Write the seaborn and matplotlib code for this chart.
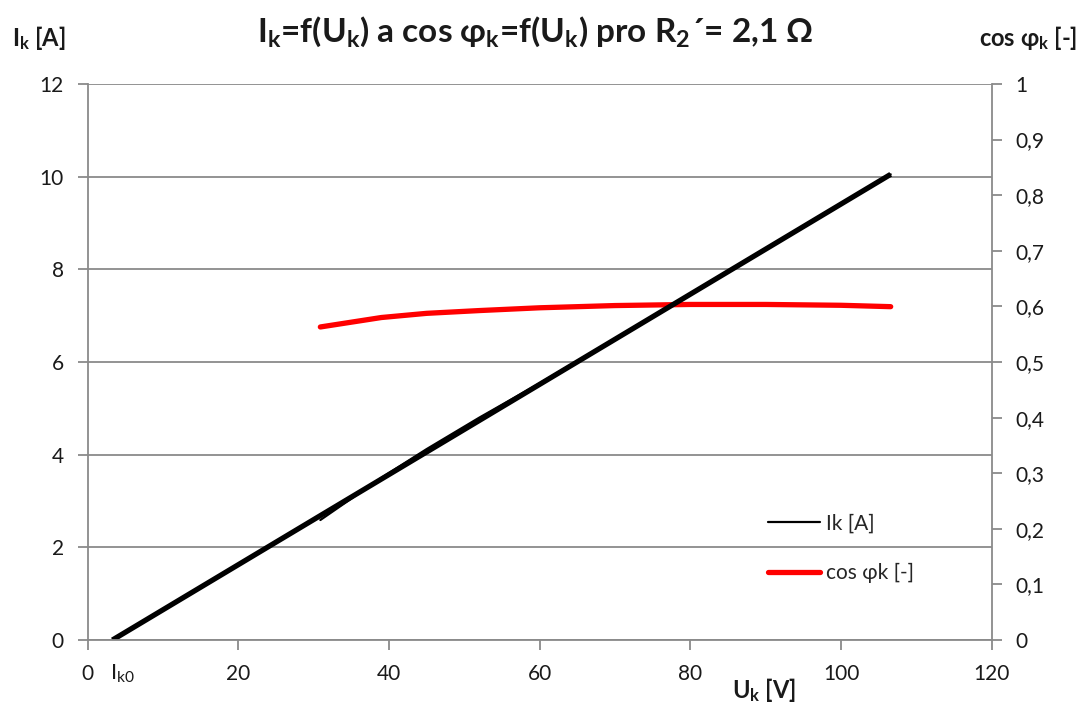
import matplotlib
matplotlib.use("Agg")
import matplotlib.pyplot as plt
import seaborn as sns
import pandas as pd
from matplotlib.ticker import MultipleLocator, FuncFormatter

# Short-circuit test, measured points
u_k = [30.9, 39, 45, 52, 60, 70, 80, 90, 100, 106.6]          # U_k [V]
i_k = [2.59, 3.50, 4.12, 4.80, 5.54, 6.5, 7.47, 8.45, 9.42, 10.05]  # I_k [A]
cos_phi_k = [0.563, 0.580, 0.5875, 0.5925, 0.5975, 0.6015, 0.6035, 0.6035, 0.602, 0.5995]

# Straight line through the current extended down to I_k = 0 (gives I_k0)
u_line = [3.3, 106.6]
i_line = [0.0, 10.05]

x_ticks = [0, 20, 40, 60, 80, 100, 120]
left_ticks = [0, 2, 4, 6, 8, 10, 12]

sns.set_theme(style="white")
plt.rcParams["font.family"] = ["Lato", "DejaVu Sans"]
plt.rcParams["mathtext.fontset"] = "custom"
plt.rcParams["mathtext.rm"] = "Lato"
plt.rcParams["mathtext.bf"] = "Lato:bold"
plt.rcParams["mathtext.it"] = "Lato:italic"

GRAY = "#8a8a8a"
TXT = "#1a1a1a"

meas = pd.DataFrame({"U": u_k, "I": i_k, "cos": cos_phi_k})
line = pd.DataFrame({"U": u_line, "I": i_line})

fig = plt.figure(figsize=(10.82, 7.08), dpi=100)
ax = fig.add_axes([0.0809, 0.096, 0.8356, 0.7854])
ax2 = ax.twinx()

sns.lineplot(data=line, x="U", y="I", ax=ax, color="black", lw=3.8,
             solid_capstyle="butt")
sns.lineplot(data=meas, x="U", y="I", ax=ax, color="black", lw=1.6,
             label="Ik [A]")
sns.lineplot(data=meas, x="U", y="cos", ax=ax2, color="#ff0000", lw=3.8,
             solid_capstyle="round", label="cos φk [-]")

ax.set_zorder(2)
ax.patch.set_visible(False)
ax2.set_zorder(1)

ax.set_xlim(0, 120)
ax.set_ylim(0, 12)
ax2.set_ylim(0, 1)
ax.set_xticks(x_ticks)
ax.set_yticks(left_ticks)
ax2.yaxis.set_major_locator(MultipleLocator(0.1))
ax2.yaxis.set_major_formatter(
    FuncFormatter(lambda v, p: ("%g" % round(v, 1)).replace(".", ",")))

ax.set_xlabel("")
ax.set_ylabel("")
ax2.set_ylabel("")

ax.yaxis.grid(True, color=GRAY, lw=1.3)
ax.xaxis.grid(False)
ax2.grid(False)

for a in (ax, ax2):
    a.spines["top"].set_visible(False)
    for s in ("left", "right", "bottom"):
        a.spines[s].set_color(GRAY)
        a.spines[s].set_linewidth(1.3)
ax.spines["right"].set_visible(False)
ax2.spines["left"].set_visible(False)
ax2.spines["bottom"].set_visible(False)

ax.tick_params(axis="both", direction="out", length=7, width=1.3, color=GRAY,
               labelsize=15, labelcolor=TXT, pad=10)
ax.tick_params(axis="y", left=True)
ax.tick_params(axis="x", bottom=True)
ax2.tick_params(axis="y", direction="out", length=7, width=1.3, color=GRAY,
                labelsize=15, labelcolor=TXT, pad=10, right=True)

h1, l1 = ax.get_legend_handles_labels()
h2, l2 = ax2.get_legend_handles_labels()
if ax2.get_legend():
    ax2.get_legend().remove()
ax.legend(h1 + h2, l1 + l2, loc="center left",
          bbox_to_anchor=(0.732, 0.165), frameon=False, fontsize=15,
          handlelength=2.5, handletextpad=0.3, labelspacing=1.4)

K = r"$_{\mathbf{k}}$"
fig.text(0.4945, 0.955,
         "I" + K + "=f(U" + K + ") a cos φ" + K + "=f(U" + K + ") pro R"
         + r"$_{\mathbf{2}}$" + "´= 2,1 Ω",
         ha="center", va="center", fontsize=24, fontweight="bold", color=TXT)
fig.text(0.011, 1 - 38 / 708, "I" + K + " [A]", ha="left", va="center",
         fontsize=17, fontweight="bold", color=TXT)
fig.text(0.9955, 1 - 38 / 708, "cos φ" + K + " [-]", ha="right",
         va="center", fontsize=17, fontweight="bold", color=TXT)
fig.text(0.706, 1 - 690 / 708, "U" + K + " [V]", ha="center",
         va="center", fontsize=17, fontweight="bold", color=TXT)

ax.annotate(r"I$_{\mathrm{k0}}$", xy=(u_line[0], i_line[0]),
            xytext=(-2, -24), textcoords="offset points", ha="left",
            va="center", fontsize=16, color=TXT, annotation_clip=False)

fig.savefig("out.png", dpi=100, facecolor="white")
